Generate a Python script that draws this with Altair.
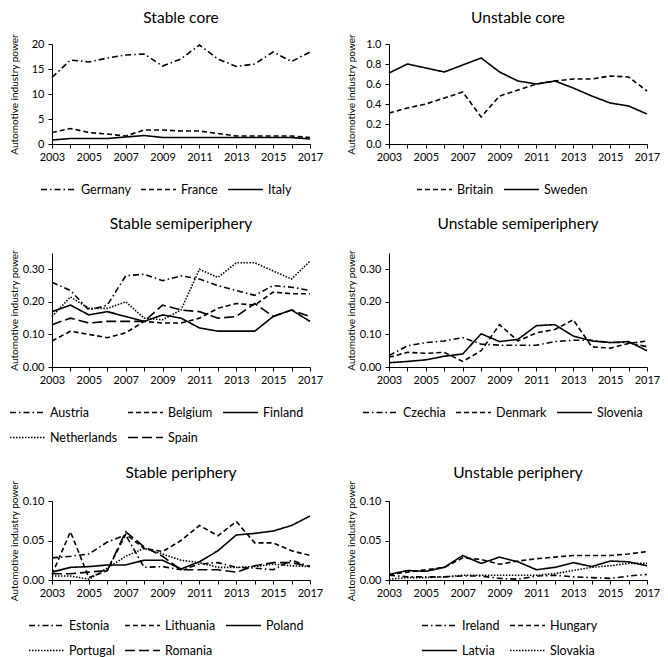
import altair as alt
import pandas as pd

years = list(range(2003, 2018))

# Stable core
germany = [13.3, 16.8, 16.4, 17.2, 17.8, 18.0, 15.6, 17.0, 19.8, 17.0, 15.5, 16.0, 18.4, 16.5, 18.4]
france = [2.3, 3.1, 2.3, 2.0, 1.6, 2.8, 2.8, 2.6, 2.6, 2.1, 1.6, 1.6, 1.6, 1.6, 1.3]
italy = [0.8, 1.1, 1.1, 1.1, 1.4, 1.7, 1.3, 1.3, 1.3, 1.3, 1.3, 1.3, 1.3, 1.3, 1.0]

# Unstable core
britain = [0.31, 0.36, 0.40, 0.46, 0.52, 0.27, 0.48, 0.54, 0.60, 0.63, 0.65, 0.65, 0.68, 0.67, 0.53]
sweden = [0.71, 0.80, 0.76, 0.72, 0.79, 0.86, 0.72, 0.63, 0.60, 0.63, 0.56, 0.48, 0.41, 0.38, 0.30]

# Stable semiperiphery
austria = [0.26, 0.235, 0.175, 0.19, 0.28, 0.285, 0.265, 0.28, 0.27, 0.25, 0.235, 0.22, 0.25, 0.245, 0.235]
belgium = [0.08, 0.11, 0.10, 0.09, 0.105, 0.14, 0.135, 0.135, 0.15, 0.18, 0.195, 0.19, 0.23, 0.225, 0.225]
finland = [0.17, 0.19, 0.16, 0.17, 0.155, 0.14, 0.16, 0.15, 0.12, 0.11, 0.11, 0.11, 0.155, 0.175, 0.14]
netherlands = [0.155, 0.215, 0.18, 0.18, 0.20, 0.15, 0.145, 0.175, 0.30, 0.275, 0.32, 0.32, 0.295, 0.27, 0.325]
spain = [0.13, 0.15, 0.135, 0.14, 0.14, 0.14, 0.19, 0.175, 0.17, 0.15, 0.155, 0.195, 0.155, 0.175, 0.155]

# Unstable semiperiphery
czechia = [0.035, 0.065, 0.075, 0.08, 0.09, 0.07, 0.067, 0.067, 0.067, 0.078, 0.082, 0.082, 0.075, 0.075, 0.062]
denmark = [0.03, 0.045, 0.042, 0.045, 0.017, 0.05, 0.13, 0.08, 0.105, 0.115, 0.145, 0.062, 0.058, 0.072, 0.08]
slovenia = [0.013, 0.017, 0.022, 0.033, 0.04, 0.102, 0.078, 0.085, 0.127, 0.13, 0.095, 0.08, 0.075, 0.078, 0.05]

# Stable periphery
estonia = [0.028, 0.030, 0.033, 0.048, 0.057, 0.016, 0.017, 0.013, 0.020, 0.022, 0.016, 0.015, 0.013, 0.025, 0.017]
lithuania = [0.007, 0.061, 0.003, 0.012, 0.058, 0.040, 0.036, 0.050, 0.069, 0.056, 0.074, 0.047, 0.047, 0.037, 0.031]
poland = [0.010, 0.016, 0.017, 0.019, 0.019, 0.025, 0.025, 0.014, 0.023, 0.037, 0.057, 0.059, 0.062, 0.069, 0.081]
portugal = [0.005, 0.005, 0.001, 0.015, 0.030, 0.040, 0.033, 0.025, 0.022, 0.016, 0.016, 0.017, 0.020, 0.018, 0.017]
romania = [0.008, 0.008, 0.010, 0.012, 0.061, 0.042, 0.030, 0.013, 0.013, 0.013, 0.010, 0.018, 0.022, 0.022, 0.017]

# Unstable periphery
ireland = [0.006, 0.004, 0.004, 0.004, 0.005, 0.005, 0.002, 0.001, 0.005, 0.006, 0.004, 0.003, 0.002, 0.005, 0.007]
hungary = [0.007, 0.010, 0.013, 0.016, 0.028, 0.026, 0.020, 0.024, 0.027, 0.029, 0.031, 0.031, 0.031, 0.033, 0.036]
latvia = [0.007, 0.012, 0.011, 0.016, 0.031, 0.021, 0.029, 0.023, 0.013, 0.016, 0.022, 0.017, 0.024, 0.023, 0.018]
slovakia = [0.001, 0.003, 0.003, 0.004, 0.006, 0.006, 0.006, 0.006, 0.006, 0.008, 0.012, 0.016, 0.018, 0.021, 0.021]

DASHDOT = [6, 3, 1.5, 3]
DASH = [5, 3]
SOLID = [1, 0]
DOT = [1.5, 1.5]
LONGDASH = [10, 4]

FONT = "Lato"
W = 258


def panel(title, names, series, dashes, ydomain, yticks, yfmt, height, columns, lx, toff):
    rows = []
    for n, s in zip(names, series):
        for yr, v in zip(years, s):
            rows.append({"year": yr, "country": n, "value": v})
    df = pd.DataFrame(rows)
    return alt.Chart(df, title=alt.Title(title, offset=toff)).mark_line(
        color="black", strokeWidth=1.6
    ).encode(
        x=alt.X("year:Q",
                scale=alt.Scale(domain=[2003, 2017], nice=False, zero=False),
                axis=alt.Axis(values=years, format="d", title=None, grid=False,
                              labelFlush=False, labelOverlap=False,
                              labelExpr="datum.value % 2 == 1 ? datum.label : ''")),
        y=alt.Y("value:Q",
                scale=alt.Scale(domain=ydomain, nice=False, zero=True),
                axis=alt.Axis(values=yticks, format=yfmt, grid=False,
                              title="Automotive industry power",
                              minExtent=31, maxExtent=31)),
        strokeDash=alt.StrokeDash(
            "country:N",
            scale=alt.Scale(domain=names, range=dashes),
            sort=names,
            legend=alt.Legend(title=None, orient="none", direction="horizontal",
                              columns=columns, legendX=lx, legendY=height + 27,
                              symbolType="stroke", symbolSize=1225,
                              symbolStrokeWidth=1.6, symbolStrokeColor="black",
                              labelOffset=4, columnPadding=6, rowPadding=-2,
                              gridAlign="each")),
    ).properties(width=W, height=height)


p1 = panel("Stable core", ["Germany", "France", "Italy"], [germany, france, italy],
           [DASHDOT, DASH, SOLID], [0, 20], [0, 5, 10, 15, 20], "d", 100, 3, -12, 7)
p2 = panel("Unstable core", ["Britain", "Sweden"], [britain, sweden],
           [DASH, SOLID], [0, 1], [0, 0.2, 0.4, 0.6, 0.8, 1.0], ".1f", 100, 2, 27, 7)
p3 = panel("Stable semiperiphery", ["Austria", "Belgium", "Finland", "Netherlands", "Spain"],
           [austria, belgium, finland, netherlands, spain],
           [DASHDOT, DASH, SOLID, DOT, LONGDASH], [0, 0.35], [0, 0.1, 0.2, 0.3], ".2f", 114, 3, -43, 17)
p4 = panel("Unstable semiperiphery", ["Czechia", "Denmark", "Slovenia"],
           [czechia, denmark, slovenia],
           [DASHDOT, DASH, SOLID], [0, 0.35], [0, 0.1, 0.2, 0.3], ".2f", 114, 3, -27, 17)
p5 = panel("Stable periphery", ["Estonia", "Lithuania", "Poland", "Portugal", "Romania"],
           [estonia, lithuania, poland, portugal, romania],
           [DASHDOT, DASH, SOLID, DOT, LONGDASH], [0, 0.1], [0, 0.05, 0.1], ".2f", 79, 3, -24, -1)
p6 = panel("Unstable periphery", ["Ireland", "Hungary", "Latvia", "Slovakia"],
           [ireland, hungary, latvia, slovakia],
           [DASHDOT, DASH, SOLID, DOT], [0, 0.1], [0, 0.05, 0.1], ".2f", 79, 2, 32, -1)


def row(a, b):
    return alt.hconcat(a, b, spacing=79, bounds="flush").resolve_scale(
        x="independent", y="independent", strokeDash="independent"
    ).resolve_legend(strokeDash="independent")


chart = alt.vconcat(
    row(p1, p2), row(p3, p4), row(p5, p6), spacing=21,
    padding={"top": 3, "left": 0, "right": 0, "bottom": 0}
).resolve_scale(
    x="independent", y="independent", strokeDash="independent"
).resolve_legend(strokeDash="independent").configure(
    font=FONT, background="white"
).configure_view(stroke=None).configure_title(
    font=FONT, fontSize=15.5, fontWeight="normal", color="black", anchor="middle"
).configure_axis(
    labelFont=FONT, labelFontSize=11, labelColor="black", titleFont=FONT,
    titleFontSize=10, titleFontWeight="normal", titleColor="black",
    domainColor="black", tickColor="black", tickSize=4, labelPadding=3,
    titlePadding=2
).configure_axisY(labelPadding=4).configure_legend(
    labelFont=FONT, labelFontSize=12.5, labelColor="black"
)

chart.save("out.html", embed_options={"renderer": "svg", "actions": False})
